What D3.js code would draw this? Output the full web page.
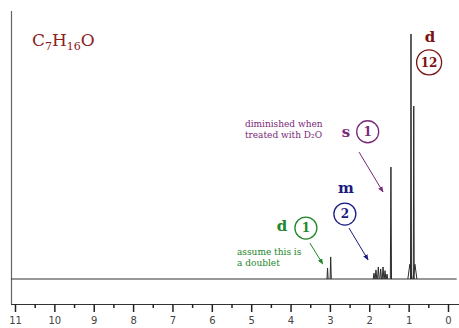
<!DOCTYPE html>
<html>
<head>
<meta charset="utf-8">
<script src="https://cdn.jsdelivr.net/npm/d3@7"></script>
<style>
  body { margin: 0; background: #fff; }
  svg { display: block; }
  .tick text { font-family: "DejaVu Sans", sans-serif; font-size: 10px; fill: #444; }
  .tick line { stroke: #222; stroke-width: 1.5; }
</style>
</head>
<body>
<div id="chart"></div>
<script>
// chemical shift ticks (ppm)
const majorTicks = [11, 10, 9, 8, 7, 6, 5, 4, 3, 2, 1, 0];
const minorTicks = [10.5, 9.5, 8.5, 7.5, 6.5, 5.5, 4.5, 3.5, 2.5, 1.5, 0.5];

// peak sticks: ppm, relative intensity, half width (ppm)
const peakPpm = [3.06, 2.98, 1.88, 1.83, 1.77, 1.71, 1.65, 1.60, 1.55, 1.45, 0.97, 0.94, 0.87, 0.84];
const peakInt = [4.5, 9.0, 2.4, 3.7, 4.9, 4.1, 4.9, 3.4, 2.0, 45.7, 6, 100, 70.6, 6];
const peakWid = [0.015, 0.015, 0.02, 0.02, 0.02, 0.02, 0.02, 0.02, 0.02, 0.015, 0.05, 0.012, 0.012, 0.05];

// multiplicity labels: letter, proton count, colour, positions in ppm / intensity
const multLetter = ["d", "s", "m", "d"];
const multCount = ["12", "1", "2", "1"];
const multColor = ["#7d1111", "#7a2a7a", "#1c1c80", "#23862a"];
const letterPos = [[0.46, 96.7], [2.59, 58.0], [2.59, 35.1], [4.22, 19.6]];
const circlePos = [[0.48, 88.4], [2.04, 60.1], [2.62, 26.5], [3.61, 20.8]];
const circleR = [12.5, 11, 11, 11];

// arrows: from / to (ppm, intensity)
const arrowFrom = [null, [2.26, 51.8], [2.515, 20.8], [3.51, 14.7]];
const arrowTo = [null, [1.65, 35.5], [2.03, 7.8], [3.18, 6.1]];

// notes
const noteLines = [["diminished when", "treated with D\u2082O"], ["assume this is", "a doublet"]];
const noteColor = ["#7a2a7a", "#23862a"];
const notePos = [[5.16, 62.0], [5.36, 9.8]];

// formula pieces: text, subscript?
const formulaParts = [["C", false], ["7", true], ["H", false], ["16", true], ["O", false]];

const width = 459, height = 328;
const frameLeft = 11, frameTop = 11, axisY = 304;

const svg = d3.select("#chart").append("svg")
  .attr("width", width)
  .attr("height", height);

const x = d3.scaleLinear().domain([11, 0]).range([15, 448]);
const y = d3.scaleLinear().domain([0, 100]).range([279, 34]);

// arrow markers
const defs = svg.append("defs");
multColor.forEach((c, i) => {
  defs.append("marker")
    .attr("id", "arr" + i)
    .attr("viewBox", "0 0 10 10")
    .attr("refX", 9).attr("refY", 5)
    .attr("markerWidth", 6).attr("markerHeight", 6)
    .attr("orient", "auto")
    .append("path")
    .attr("d", "M0,1 L10,5 L0,9 Z")
    .attr("fill", c);
});

// frame: left edge and bottom axis line
svg.append("line")
  .attr("x1", frameLeft + 0.5).attr("x2", frameLeft + 0.5)
  .attr("y1", frameTop).attr("y2", axisY)
  .attr("stroke", "#666").attr("stroke-width", 1.2);
svg.append("line")
  .attr("x1", frameLeft).attr("x2", width)
  .attr("y1", axisY + 0.5).attr("y2", axisY + 0.5)
  .attr("stroke", "#333").attr("stroke-width", 1.2);

// axes
const xAxis = d3.axisBottom(x).tickValues(majorTicks).tickSize(8).tickPadding(5).tickFormat(d3.format("d"));
const xMinor = d3.axisBottom(x).tickValues(minorTicks).tickSize(4).tickFormat("");

svg.append("g").attr("transform", `translate(0,${axisY})`)
  .call(xMinor).call(g => g.select(".domain").remove());
svg.append("g").attr("transform", `translate(0,${axisY})`)
  .call(xAxis).call(g => g.select(".domain").remove());

// spectrum baseline
svg.append("line")
  .attr("x1", frameLeft).attr("x2", x(-0.22))
  .attr("y1", y(0)).attr("y2", y(0))
  .attr("stroke", "#333").attr("stroke-width", 1);

// peaks
const peaks = peakPpm.map((p, i) => ({ ppm: p, h: peakInt[i], w: peakWid[i] }));
const line = d3.line().x(d => x(d[0])).y(d => y(d[1]));
svg.selectAll(".peak")
  .data(peaks)
  .join("path")
  .attr("class", "peak")
  .attr("d", d => line([[d.ppm + d.w, 0], [d.ppm, d.h], [d.ppm - d.w, 0]]))
  .attr("fill", "none")
  .attr("stroke", "#2a2a2a")
  .attr("stroke-width", 1);

// formula C7H16O with subscripts
const formula = svg.append("text")
  .attr("x", 32).attr("y", 46)
  .attr("fill", "#8b2020")
  .style("font-family", "DejaVu Serif, serif")
  .style("font-size", "17px");
let lowered = false;
formulaParts.forEach(([t, sub]) => {
  const dy = sub === lowered ? 0 : (sub ? 4 : -4);
  lowered = sub;
  formula.append("tspan")
    .attr("dy", dy)
    .style("font-size", sub ? "11px" : "17px")
    .text(t);
});

// multiplicity letters and circled counts
multLetter.forEach((m, i) => {
  const c = multColor[i];
  svg.append("text")
    .attr("x", x(letterPos[i][0])).attr("y", y(letterPos[i][1]))
    .attr("text-anchor", "middle")
    .attr("fill", c)
    .style("font-family", "DejaVu Serif, serif")
    .style("font-weight", "bold")
    .style("font-size", "15px")
    .text(m);
  svg.append("circle")
    .attr("cx", x(circlePos[i][0])).attr("cy", y(circlePos[i][1]))
    .attr("r", circleR[i])
    .attr("fill", "none").attr("stroke", c).attr("stroke-width", 1.3);
  svg.append("text")
    .attr("x", x(circlePos[i][0])).attr("y", y(circlePos[i][1]))
    .attr("dy", "0.35em")
    .attr("text-anchor", "middle")
    .attr("fill", c)
    .style("font-family", "DejaVu Serif, serif")
    .style("font-weight", "bold")
    .style("font-size", "12px")
    .text(multCount[i]);
  if (arrowFrom[i]) {
    svg.append("line")
      .attr("x1", x(arrowFrom[i][0])).attr("y1", y(arrowFrom[i][1]))
      .attr("x2", x(arrowTo[i][0])).attr("y2", y(arrowTo[i][1]))
      .attr("stroke", c).attr("stroke-width", 1)
      .attr("marker-end", `url(#arr${i})`);
  }
});

// notes
noteLines.forEach((lines, i) => {
  const t = svg.append("text")
    .attr("x", x(notePos[i][0])).attr("y", y(notePos[i][1]))
    .attr("fill", noteColor[i])
    .style("font-family", "DejaVu Serif Condensed, DejaVu Serif, serif")
    .style("font-stretch", "condensed")
    .style("font-size", "10px");
  lines.forEach((l, j) => {
    t.append("tspan").attr("x", x(notePos[i][0])).attr("dy", j ? 11 : 0).text(l);
  });
});
</script>
</body>
</html>
